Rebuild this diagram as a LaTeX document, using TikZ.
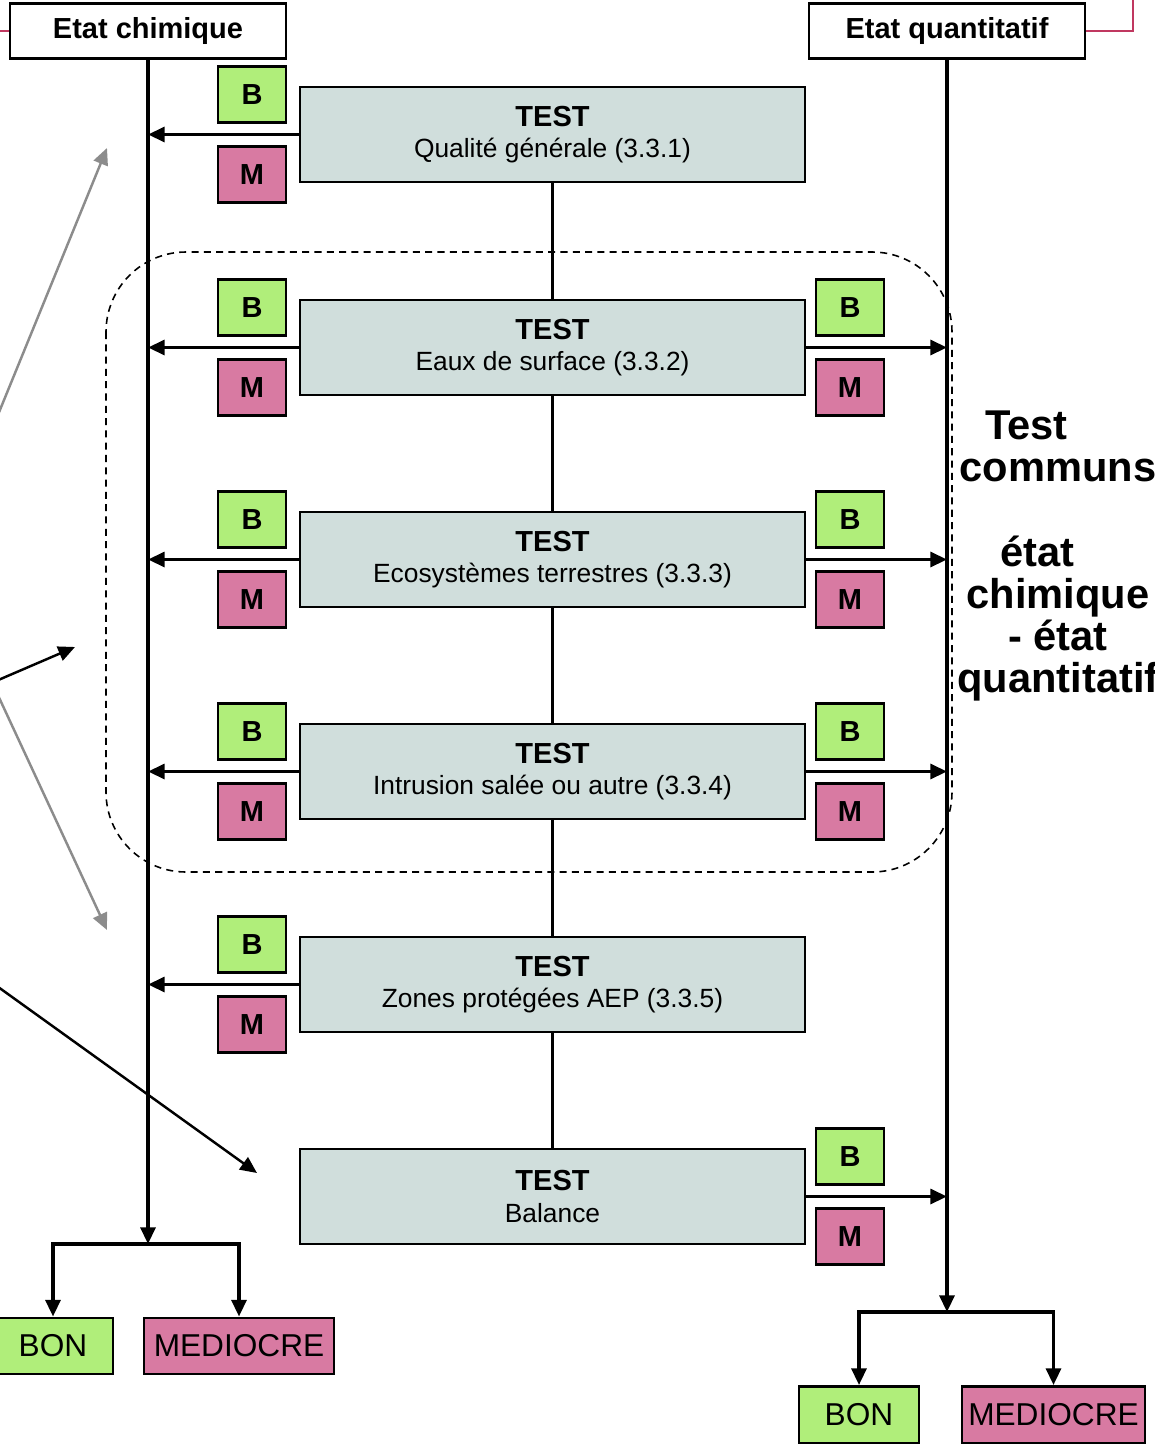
\documentclass[tikz,border=0pt]{standalone}
\usepackage{fontspec}
\setmainfont{Liberation Sans}
\usetikzlibrary{arrows.meta}
\definecolor{bongreen}{RGB}{176,238,122}
\definecolor{medpink}{RGB}{216,122,162}
\definecolor{testgray}{RGB}{208,222,220}
\definecolor{linkred}{RGB}{192,56,96}
\definecolor{guidegray}{RGB}{140,140,140}
\newcommand{\testtxt}[1]{\textbf{\fontsize{16.5}{18}\selectfont TEST}\\#1}
\tikzset{
  etat/.style={draw, line width=1.4pt, fill=white, minimum width=5.52cm, minimum height=1.1cm, font=\fontsize{16.5}{18}\selectfont\bfseries},
  testbox/.style={draw, line width=1.4pt, fill=testgray, minimum width=10.1cm, minimum height=1.9cm, align=center, font=\fontsize{15}{18}\selectfont},
  bbox/.style={draw, line width=1.4pt, fill=bongreen, minimum width=1.36cm, minimum height=1.12cm, font=\fontsize{16.5}{18}\selectfont\bfseries},
  mbox/.style={bbox, fill=medpink},
  bon/.style={draw, line width=1.4pt, fill=bongreen, minimum width=2.4cm, minimum height=1.13cm, font=\fontsize{18}{20}\selectfont},
  med/.style={bon, fill=medpink},
  trunk/.style={line width=1.9pt},
  flow/.style={trunk, -{Triangle[length=9.5pt,width=8.5pt]}},
  outarrow/.style={line width=1.4pt, -{Triangle[length=9.5pt,width=8.5pt]}},
}

\begin{document}
\begin{tikzpicture}[x=0.02cm, y=-0.02cm]
\useasboundingbox (0,0) rectangle (1155,1447);
\clip (0,0) rectangle (1155,1447);

% the two columns
\node[etat] (chim) at (148,31) {Etat chimique};
\node[etat] (quant) at (947,31) {Etat quantitatif};
\coordinate (redl) at (-10,31);
\coordinate (redr) at (1133,-10);
\draw[linkred, line width=1.3pt] (chim.west) -- (redl);
\draw[linkred, line width=1.3pt] (quant.east) -| (redr);

% common tests frame
\draw[dashed, dash pattern=on 4pt off 3pt, line width=0.9pt, rounded corners=1.6cm] (106,252) rectangle (952,872);

% tests
\node[testbox] (t1) at (552.5,134.5) {\testtxt{Qualité générale (3.3.1)}};
\node[testbox] (t2) at (552.5,347.5) {\testtxt{Eaux de surface (3.3.2)}};
\node[testbox] (t3) at (552.5,559.5) {\testtxt{Ecosystèmes terrestres (3.3.3)}};
\node[testbox] (t4) at (552.5,771.5) {\testtxt{Intrusion salée ou autre (3.3.4)}};
\node[testbox] (t5) at (552.5,984.5) {\testtxt{Zones protégées AEP (3.3.5)}};
\node[testbox] (t6) at (552.5,1196.5) {\testtxt{Balance}};
\draw[trunk] (t1) -- (t2) (t2) -- (t3) (t3) -- (t4) (t4) -- (t5) (t5) -- (t6);

% B / M labels, left
\node[bbox] (b1l) at (252,94.5) {B};
\node[mbox] (m1l) at (252,174.5) {M};
\node[bbox] (b2l) at (252,307.5) {B};
\node[mbox] (m2l) at (252,387.5) {M};
\node[bbox] (b3l) at (252,519.5) {B};
\node[mbox] (m3l) at (252,599.5) {M};
\node[bbox] (b4l) at (252,731.5) {B};
\node[mbox] (m4l) at (252,811.5) {M};
\node[bbox] (b5l) at (252,944.5) {B};
\node[mbox] (m5l) at (252,1024.5) {M};

% B / M labels, right
\node[bbox] (b2r) at (850,307.5) {B};
\node[mbox] (m2r) at (850,387.5) {M};
\node[bbox] (b3r) at (850,519.5) {B};
\node[mbox] (m3r) at (850,599.5) {M};
\node[bbox] (b4r) at (850,731.5) {B};
\node[mbox] (m4r) at (850,811.5) {M};
\node[bbox] (b6r) at (850,1156.5) {B};
\node[mbox] (m6r) at (850,1236.5) {M};

% results
\node[bon] (bonl) at (53,1346) {BON};
\node[med, minimum width=3.8cm] (medl) at (239,1346) {MEDIOCRE};
\node[bon] (bonr) at (859,1414.5) {BON};
\node[med, minimum width=3.66cm] (medr) at (1053.5,1414.5) {MEDIOCRE};

% vertical flows
\coordinate (chimend) at (148,1244);
\coordinate (quantend) at (947,1312);
\draw[flow] (chim.south) -- (chimend);
\draw[flow] (quant.south) -- (quantend);
\draw[flow] (chimend) -| (bonl.north);
\draw[flow] (chimend) -| (medl.north);
\draw[flow] (quantend) -| (bonr.north);
\draw[flow] (quantend) -| (medr.north);

% test outputs
\draw[flow] (t1.west) -- (t1.west -| chim.south);
\draw[flow] (t2.west) -- (t2.west -| chim.south);
\draw[flow] (t3.west) -- (t3.west -| chim.south);
\draw[flow] (t4.west) -- (t4.west -| chim.south);
\draw[flow] (t5.west) -- (t5.west -| chim.south);
\draw[flow] (t2.east) -- (t2.east -| quant.south);
\draw[flow] (t3.east) -- (t3.east -| quant.south);
\draw[flow] (t4.east) -- (t4.east -| quant.south);
\draw[flow] (t6.east) -- (t6.east -| quant.south);

% side note
\node[font=\fontsize{23.7}{24}\selectfont\bfseries, align=center] (communs) at (1058,556)
  {\makebox[82.8pt][l]{Test}\\communs\\[24pt]\makebox[65.8pt][l]{état}\\chimique\\- état\\quantitatif};

% pointers from outside
\coordinate (srcg) at (-63,564);
\coordinate (srck) at (-269,795);
\coordinate (g1) at (107,148);
\coordinate (g2) at (107,930);
\coordinate (k1) at (75,647);
\coordinate (k2) at (257,1173);
\draw[outarrow, guidegray] (srcg) -- (g1);
\draw[outarrow, guidegray] (srcg) -- (g2);
\draw[outarrow] (srck) -- (k1);
\draw[outarrow] (srck) -- (k2);
\end{tikzpicture}
\end{document}
